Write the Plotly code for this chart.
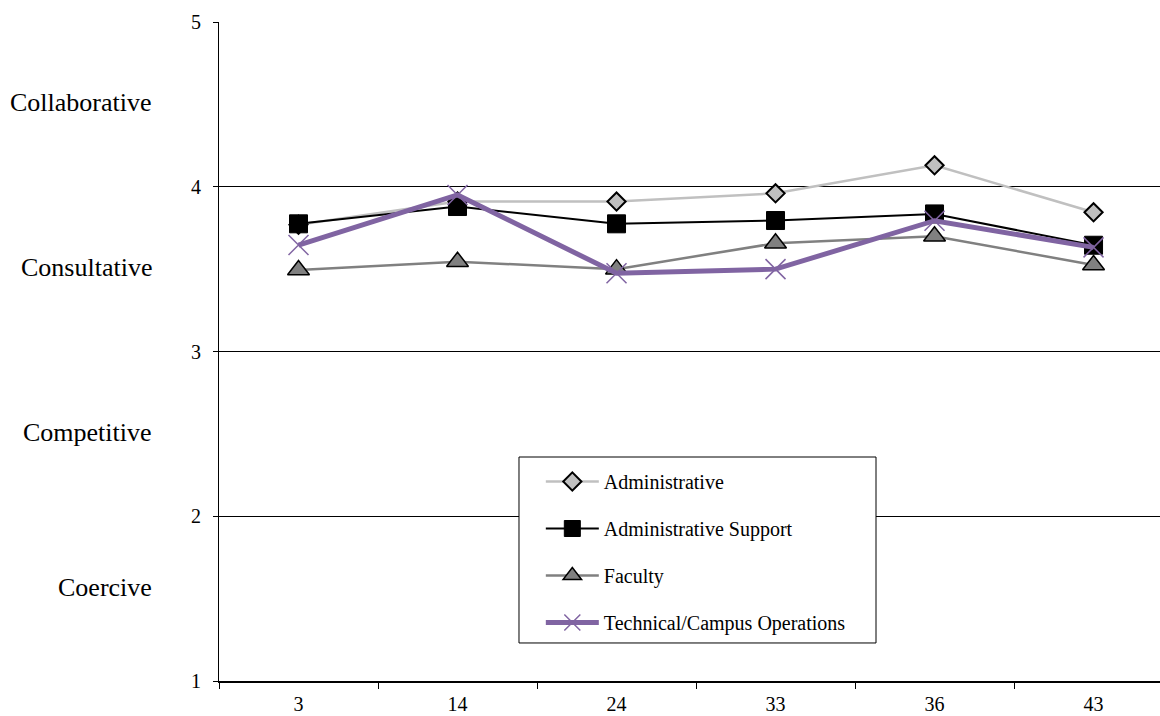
import plotly.graph_objects as go

# Survey item numbers along the x axis
items = ["3", "14", "24", "33", "36", "43"]

# Mean scores per employee group
administrative = [3.77, 3.91, 3.91, 3.96, 4.13, 3.845]
admin_support = [3.775, 3.88, 3.775, 3.795, 3.835, 3.645]
faculty = [3.495, 3.545, 3.50, 3.657, 3.70, 3.525]
technical = [3.646, 3.95, 3.475, 3.50, 3.794, 3.632]

# Descriptive bands for the score scale
band_labels = ["Collaborative", "Consultative", "Competitive", "Coercive"]
band_positions = [4.51, 3.51, 2.51, 1.57]

FONT = "Liberation Serif"

fig = go.Figure()

fig.add_trace(go.Scatter(
    x=items, y=administrative, name="Administrative", mode="lines+markers",
    legendgroup="a",
    line=dict(color="#C0C0C0", width=2.5),
    marker=dict(symbol="diamond", size=14, color="#C0C0C0",
                line=dict(color="black", width=2)),
))
fig.add_trace(go.Scatter(
    x=items, y=admin_support, name="Administrative Support", mode="lines+markers",
    legendgroup="b",
    line=dict(color="black", width=2),
    marker=dict(symbol="square", size=18, color="black",
                line=dict(color="black", width=1)),
))
fig.add_trace(go.Scatter(
    x=items, y=faculty, name="Faculty", mode="lines+markers",
    legendgroup="c",
    line=dict(color="#808080", width=2.5),
    marker=dict(symbol="triangle-up", size=19, color="#808080",
                line=dict(color="black", width=1.5)),
))
fig.add_trace(go.Scatter(
    x=items, y=technical, name="Technical/Campus Operations", mode="lines+markers",
    legendgroup="d",
    line=dict(color="#8064A2", width=5),
    marker=dict(symbol="x-thin", size=20, color="#8064A2",
                line=dict(color="#8064A2", width=1.5)),
))

for label, pos in zip(band_labels, band_positions):
    fig.add_annotation(
        text=label, xref="paper", yref="y", x=-0.069, y=pos,
        xanchor="right", yanchor="middle", showarrow=False,
        font=dict(family=FONT, size=26, color="black"),
    )

# Legend frame
fig.add_shape(
    type="rect", xref="paper", yref="paper",
    x0=0.3188, x1=0.6982, y0=0.0577, y1=0.3399,
    fillcolor="white", line=dict(color="black", width=1), layer="above",
)

fig.update_layout(
    width=1160, height=716,
    margin=dict(l=219, r=0, t=22, b=35),
    paper_bgcolor="white", plot_bgcolor="white",
    font=dict(family=FONT, size=20, color="black"),
    showlegend=True,
    legend=dict(
        x=0.342, y=0.3323, xanchor="left", yanchor="top",
        bgcolor="rgba(0,0,0,0)", borderwidth=0,
        font=dict(family=FONT, size=20, color="black"),
        itemwidth=53, tracegroupgap=18, traceorder="grouped",
    ),
    xaxis=dict(
        type="category", range=[-0.5, 5.418], automargin=False,
        showline=True, linecolor="black", linewidth=1.5,
        ticks="outside", ticklen=6, tickcolor="black", tickson="boundaries",
        showgrid=False, zeroline=False,
        ticklabelstandoff=4,
        tickfont=dict(family=FONT, size=20, color="black"),
    ),
    yaxis=dict(
        range=[1, 5], tickvals=[1, 2, 3, 4, 5], automargin=False,
        showline=True, linecolor="black", linewidth=1,
        ticks="outside", ticklen=5, tickcolor="black",
        showgrid=True, gridcolor="black", gridwidth=1, zeroline=False,
        ticklabelstandoff=8,
        tickfont=dict(family=FONT, size=20, color="black"),
    ),
)

fig.write_html("out.html")
